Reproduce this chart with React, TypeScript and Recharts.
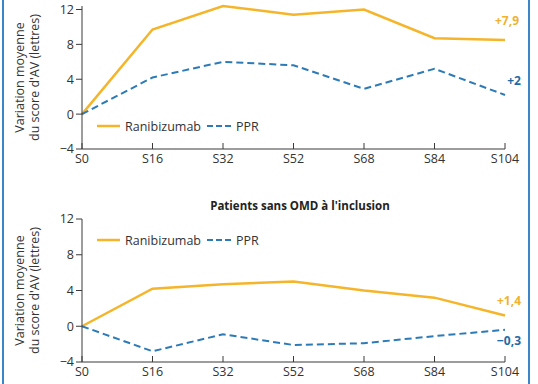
import { LineChart, Line, XAxis, YAxis, Label, LabelList } from "recharts";

const weeks = ["S0", "S16", "S32", "S52", "S68", "S84", "S104"];
const yTicks = [-4, 0, 4, 8, 12];

// avec OMD (graphique du haut)
const ranibizumabTop = [0, 9.7, 12.4, 11.4, 12.0, 8.7, 8.5];
const pprTop = [0, 4.2, 6.0, 5.6, 2.9, 5.2, 2.2];
// sans OMD (graphique du bas)
const ranibizumabBottom = [0, 4.2, 4.7, 5.0, 4.0, 3.2, 1.2];
const pprBottom = [0, -2.8, -0.9, -2.1, -1.9, -1.1, -0.4];

const endLabelsTop = { ranibizumab: "+7,9", ppr: "+2" };
const endLabelsBottom = { ranibizumab: "+1,4", ppr: "−0,3" };
const bottomTitle = "Patients sans OMD à l'inclusion";

const ORANGE = "#f5b52a";
const BLUE = "#2d7bb6";
const AXIS = "#3a3a3a";
const FONT = "'Open Sans', sans-serif";

const makeData = (r: number[], p: number[]) =>
  weeks.map((w, i) => ({ week: w, ranibizumab: r[i], ppr: p[i] }));

const XTick = (props: any) => {
  const { x, y, payload } = props;
  return (
    <g>
      <line x1={x} x2={x} y1={y - 6} y2={y} stroke={AXIS} strokeWidth={1} />
      <text x={x} y={y + 14} textAnchor="middle" fontSize={12.5} fill="#333" fontFamily={FONT}>
        {payload.value}
      </text>
    </g>
  );
};

const YLabel = (props: any) => {
  const vb = props.viewBox;
  const cy = vb.y + vb.height / 2;
  return (
    <text
      transform={`translate(29, ${cy}) rotate(-90)`}
      textAnchor="middle"
      fontSize={12.5}
      fill="#333"
      fontFamily={FONT}
    >
      <tspan x={0} dy={-5}>Variation moyenne</tspan>
      <tspan x={0} dy={15}>du score d'AV (lettres)</tspan>
    </text>
  );
};

const LegendBox = ({ left, top }: { left: number; top: number }) => (
  <svg width={170} height={16} style={{ position: "absolute", left, top }}>
    <line x1={2} x2={25} y1={8} y2={8} stroke={ORANGE} strokeWidth={2.5} />
    <text x={30} y={12.5} fontSize={12.5} fill="#333" fontFamily={FONT}>Ranibizumab</text>
    <line x1={112} x2={136} y1={8} y2={8} stroke={BLUE} strokeWidth={2} strokeDasharray="6 3" />
    <text x={141} y={12.5} fontSize={12.5} fill="#333" fontFamily={FONT}>PPR</text>
  </svg>
);

const endLabel = (text: string, color: string, dx: number, dy: number) => (props: any) => {
  const { x, y, index } = props;
  if (index !== weeks.length - 1) return null;
  return (
    <text x={x + dx} y={y + dy} textAnchor="middle" fontSize={12} fontWeight="bold" fill={color} fontFamily={FONT}>
      {text}
    </text>
  );
};

type PanelProps = {
  r: number[];
  p: number[];
  height: number;
  top: number;
  plotTop: number;
  xHeight: number;
  bottom: number;
  labels: { ranibizumab: string; ppr: string };
  rOff: [number, number];
  pOff: [number, number];
};

const Panel = ({ r, p, height, top, plotTop, xHeight, bottom, labels, rOff, pOff }: PanelProps) => (
  <div style={{ position: "absolute", left: 0, top }}>
    <LineChart
      width={538}
      height={height}
      data={makeData(r, p)}
      margin={{ top: plotTop, right: 33, bottom, left: 0 }}
    >
      <XAxis
        dataKey="week"
        stroke={AXIS}
        tickLine={false}
        tickSize={0}
        tickMargin={0}
        tick={<XTick />}
        height={xHeight}
        interval={0}
      />
      <YAxis
        domain={[-4, 12]}
        ticks={yTicks}
        width={82}
        stroke={AXIS}
        tickSize={6}
        tick={{ fontSize: 12.5, fill: "#333", fontFamily: FONT }}
        tickFormatter={(v: number) => (v < 0 ? `−${Math.abs(v)}` : `${v}`)}
      >
        <Label content={<YLabel />} />
      </YAxis>
      <Line
        type="linear"
        dataKey="ranibizumab"
        stroke={ORANGE}
        strokeWidth={2.5}
        dot={false}
        isAnimationActive={false}
      >
        <LabelList content={endLabel(labels.ranibizumab, "#efb32f", rOff[0], rOff[1])} />
      </Line>
      <Line
        type="linear"
        dataKey="ppr"
        stroke={BLUE}
        strokeWidth={2}
        strokeDasharray="7 4"
        dot={false}
        isAnimationActive={false}
      >
        <LabelList content={endLabel(labels.ppr, "#1f6ba5", pOff[0], pOff[1])} />
      </Line>
    </LineChart>
  </div>
);

export default function App() {
  return (
    <div
      style={{
        position: "absolute",
        left: 0,
        top: 0,
        width: 538,
        height: 384,
        background: "#fff",
        overflow: "hidden",
        fontFamily: FONT,
      }}
    >
      <div style={{ position: "absolute", left: 2, top: 0, width: 2, height: 384, background: "#3b86c8" }} />
      <div style={{ position: "absolute", left: 528, top: 0, width: 2, height: 384, background: "#3b86c8" }} />
      <Panel
        r={ranibizumabTop}
        p={pprTop}
        height={190}
        top={0}
        plotTop={6}
        xHeight={30}
        bottom={11}
        labels={endLabelsTop}
        rOff={[2, -15]}
        pOff={[9, -10]}
      />
      <Panel
        r={ranibizumabBottom}
        p={pprBottom}
        height={194}
        top={190}
        plotTop={29}
        xHeight={22}
        bottom={0}
        labels={endLabelsBottom}
        rOff={[4, -11]}
        pOff={[4, 15]}
      />
      <LegendBox left={95} top={118} />
      <LegendBox left={95} top={232} />
      <div
        style={{
          position: "absolute",
          left: 0,
          width: 600,
          top: 198,
          textAlign: "center",
          fontSize: 11.5,
          fontWeight: "bold",
          color: "#222",
        }}
      >
        {bottomTitle}
      </div>
    </div>
  );
}
